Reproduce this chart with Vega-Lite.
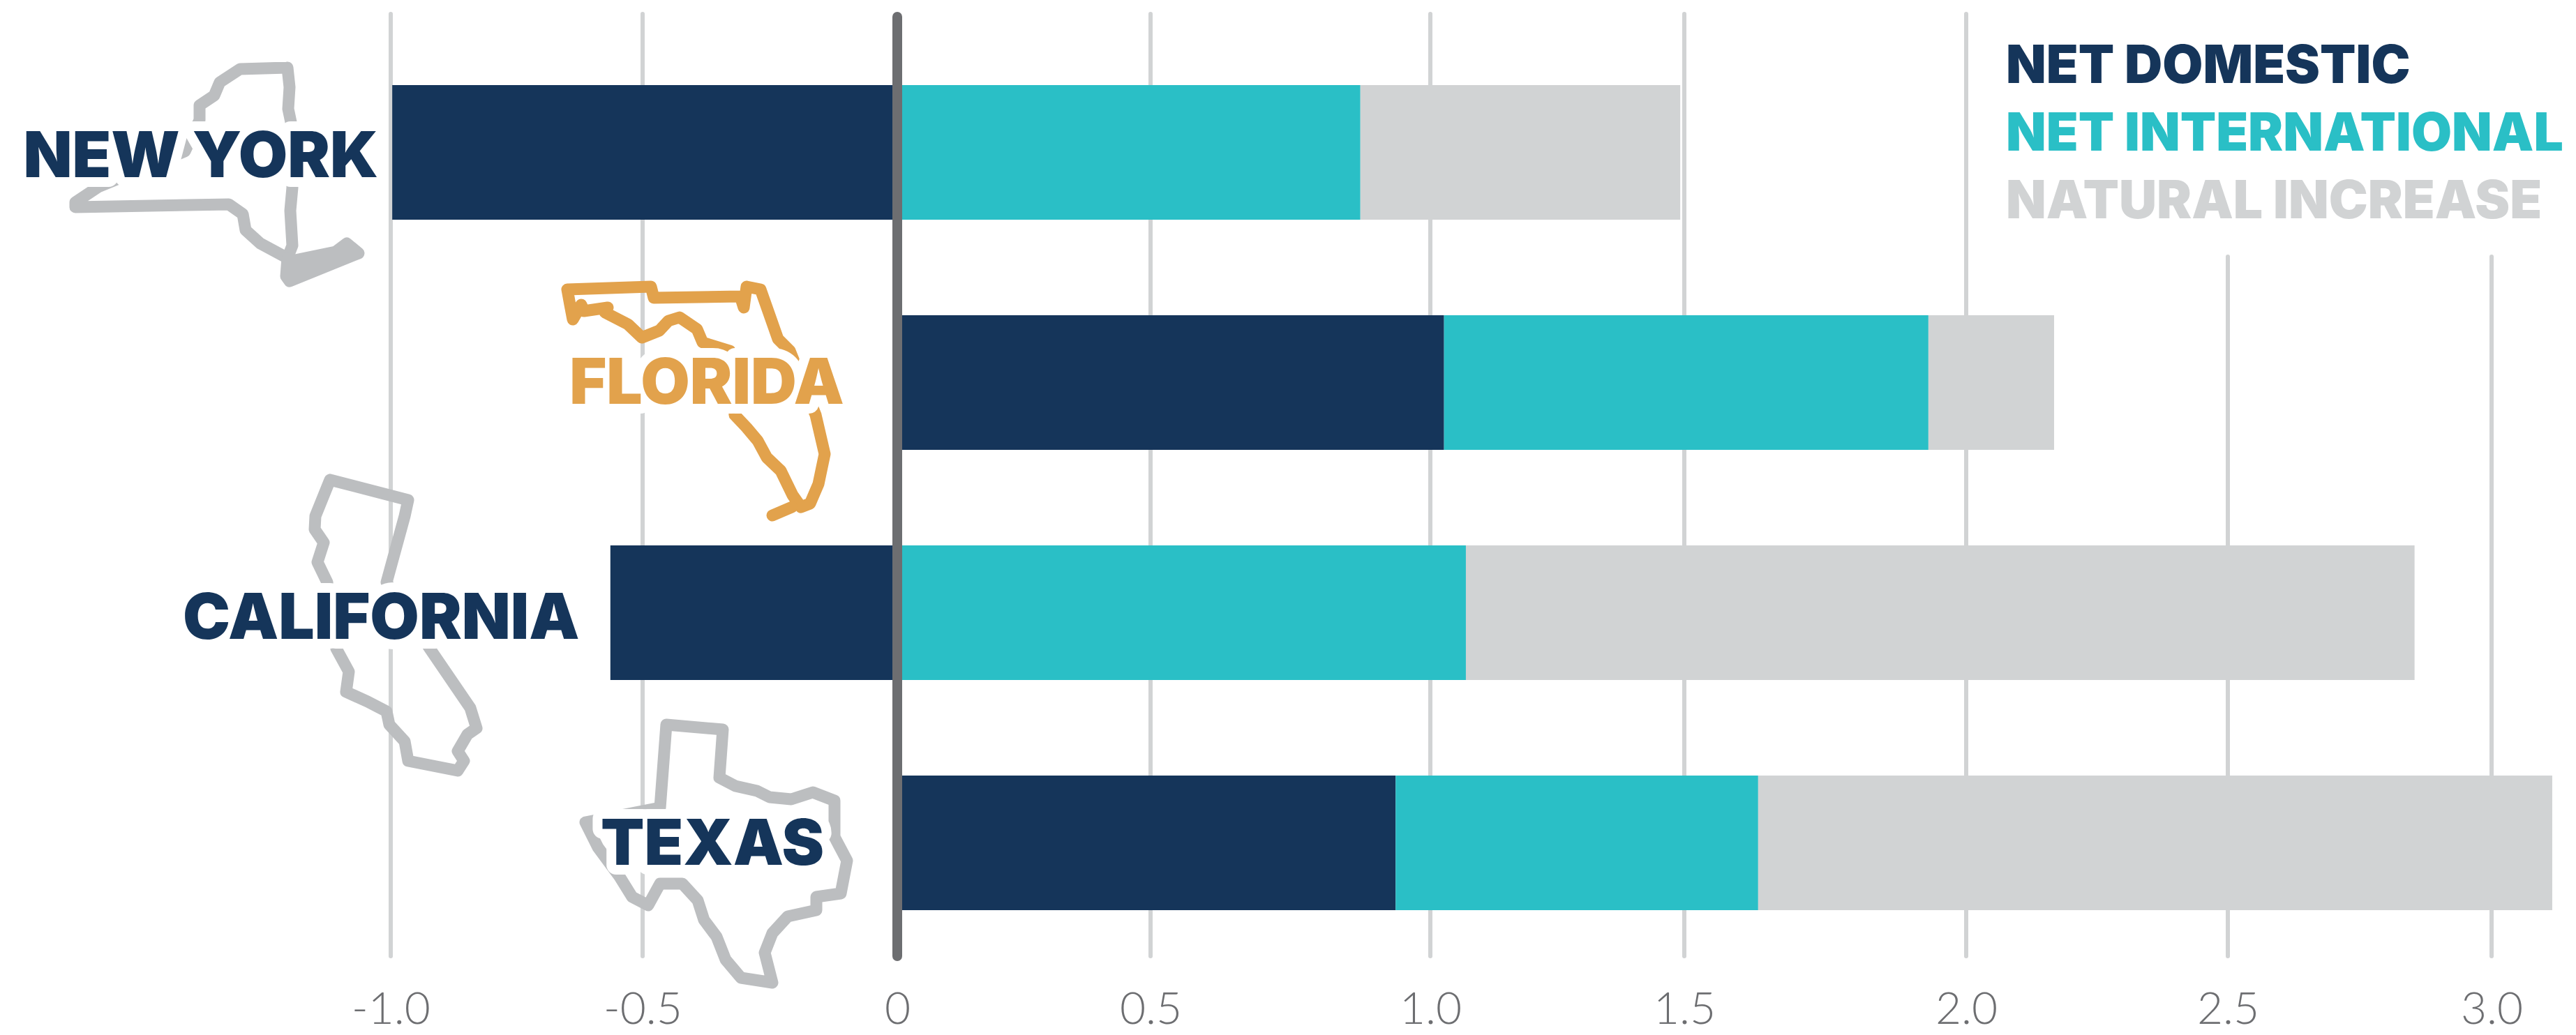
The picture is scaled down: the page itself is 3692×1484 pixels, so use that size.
{
"$schema":"https://vega.github.io/schema/vega-lite/v6.json",
"width":3692,"height":1400,
"autosize":{"type":"none"},
"padding":{"left":0,"right":0,"top":0,"bottom":84},
"background":"white",
"view":{"stroke":null},
"datasets":{
"bars":[
{"state":"NEW YORK","component":"NET DOMESTIC","rank":1,"value":-0.997},
{"state":"NEW YORK","component":"NET INTERNATIONAL","rank":2,"value":0.875},
{"state":"NEW YORK","component":"NATURAL INCREASE","rank":3,"value":0.617},
{"state":"FLORIDA","component":"NET DOMESTIC","rank":1,"value":1.027},
{"state":"FLORIDA","component":"NET INTERNATIONAL","rank":2,"value":0.906},
{"state":"FLORIDA","component":"NATURAL INCREASE","rank":3,"value":0.235},
{"state":"CALIFORNIA","component":"NET DOMESTIC","rank":1,"value":-0.564},
{"state":"CALIFORNIA","component":"NET INTERNATIONAL","rank":2,"value":1.07},
{"state":"CALIFORNIA","component":"NATURAL INCREASE","rank":3,"value":1.784},
{"state":"TEXAS","component":"NET DOMESTIC","rank":1,"value":0.938},
{"state":"TEXAS","component":"NET INTERNATIONAL","rank":2,"value":0.693},
{"state":"TEXAS","component":"NATURAL INCREASE","rank":3,"value":1.484}
],
"grid":[
{"tick":-1,"from":20,"to":1371},{"tick":-0.5,"from":20,"to":1371},
{"tick":0.5,"from":20,"to":1371},{"tick":1,"from":20,"to":1371},
{"tick":1.5,"from":20,"to":1371},{"tick":2,"from":20,"to":1371},
{"tick":2.5,"from":368,"to":1371},{"tick":3,"from":368,"to":1371}
],
"labels":[
{"state":"NEW YORK","at":-1.377,"center":220.5},{"state":"FLORIDA","at":-0.374,"center":546},
{"state":"CALIFORNIA","at":-1.019,"center":883},{"state":"TEXAS","at":-0.363,"center":1207}
],
"legend":[{"component":"NET DOMESTIC","at":2.076},{"component":"NET INTERNATIONAL","at":2.076},{"component":"NATURAL INCREASE","at":2.076}],
"outlines":[
{"state":"NEW YORK","part":"ny","seq":1,"map_x":412,"map_y":97},{"state":"NEW YORK","part":"ny","seq":2,"map_x":415,"map_y":125},{"state":"NEW YORK","part":"ny","seq":3,"map_x":413,"map_y":156},{"state":"NEW YORK","part":"ny","seq":4,"map_x":417,"map_y":175},{"state":"NEW YORK","part":"ny","seq":5,"map_x":419,"map_y":269},{"state":"NEW YORK","part":"ny","seq":6,"map_x":416,"map_y":302},{"state":"NEW YORK","part":"ny","seq":7,"map_x":419,"map_y":352},{"state":"NEW YORK","part":"ny","seq":8,"map_x":412,"map_y":370},{"state":"NEW YORK","part":"ny","seq":9,"map_x":373,"map_y":349},{"state":"NEW YORK","part":"ny","seq":10,"map_x":352,"map_y":330},{"state":"NEW YORK","part":"ny","seq":11,"map_x":348,"map_y":307},{"state":"NEW YORK","part":"ny","seq":12,"map_x":328,"map_y":293},{"state":"NEW YORK","part":"ny","seq":13,"map_x":108,"map_y":297},{"state":"NEW YORK","part":"ny","seq":14,"map_x":108,"map_y":290},{"state":"NEW YORK","part":"ny","seq":15,"map_x":141,"map_y":268},{"state":"NEW YORK","part":"ny","seq":16,"map_x":265,"map_y":217},{"state":"NEW YORK","part":"ny","seq":17,"map_x":286,"map_y":172},{"state":"NEW YORK","part":"ny","seq":18,"map_x":286,"map_y":151},{"state":"NEW YORK","part":"ny","seq":19,"map_x":307,"map_y":137},{"state":"NEW YORK","part":"ny","seq":20,"map_x":315,"map_y":118},{"state":"NEW YORK","part":"ny","seq":21,"map_x":344,"map_y":99},{"state":"NEW YORK","part":"ny","seq":22,"map_x":412,"map_y":97},
{"state":"NEW YORK","part":"li","seq":1,"map_x":412,"map_y":370},{"state":"NEW YORK","part":"li","seq":2,"map_x":410,"map_y":396},{"state":"NEW YORK","part":"li","seq":3,"map_x":423,"map_y":373},{"state":"NEW YORK","part":"li","seq":4,"map_x":481,"map_y":361},{"state":"NEW YORK","part":"li","seq":5,"map_x":497,"map_y":349},{"state":"NEW YORK","part":"li","seq":6,"map_x":514,"map_y":363},{"state":"NEW YORK","part":"li","seq":7,"map_x":415,"map_y":403},{"state":"NEW YORK","part":"li","seq":8,"map_x":410,"map_y":396},{"state":"NEW YORK","part":"li","seq":9,"map_x":440,"map_y":380},{"state":"NEW YORK","part":"li","seq":10,"map_x":500,"map_y":358},
{"state":"FLORIDA","part":"fl","seq":1,"map_x":813,"map_y":415},{"state":"FLORIDA","part":"fl","seq":2,"map_x":933,"map_y":411},{"state":"FLORIDA","part":"fl","seq":3,"map_x":937,"map_y":427},{"state":"FLORIDA","part":"fl","seq":4,"map_x":1061,"map_y":425},{"state":"FLORIDA","part":"fl","seq":5,"map_x":1066,"map_y":441},{"state":"FLORIDA","part":"fl","seq":6,"map_x":1070,"map_y":411},{"state":"FLORIDA","part":"fl","seq":7,"map_x":1090,"map_y":415},{"state":"FLORIDA","part":"fl","seq":8,"map_x":1115,"map_y":486},{"state":"FLORIDA","part":"fl","seq":9,"map_x":1132,"map_y":503},{"state":"FLORIDA","part":"fl","seq":10,"map_x":1169,"map_y":595},{"state":"FLORIDA","part":"fl","seq":11,"map_x":1182,"map_y":651},{"state":"FLORIDA","part":"fl","seq":12,"map_x":1173,"map_y":694},{"state":"FLORIDA","part":"fl","seq":13,"map_x":1161,"map_y":722},{"state":"FLORIDA","part":"fl","seq":14,"map_x":1148,"map_y":727},{"state":"FLORIDA","part":"fl","seq":15,"map_x":1136,"map_y":710},{"state":"FLORIDA","part":"fl","seq":16,"map_x":1119,"map_y":675},{"state":"FLORIDA","part":"fl","seq":17,"map_x":1099,"map_y":656},{"state":"FLORIDA","part":"fl","seq":18,"map_x":1086,"map_y":632},{"state":"FLORIDA","part":"fl","seq":19,"map_x":1070,"map_y":613},{"state":"FLORIDA","part":"fl","seq":20,"map_x":1053,"map_y":595},{"state":"FLORIDA","part":"fl","seq":21,"map_x":1046,"map_y":503},{"state":"FLORIDA","part":"fl","seq":22,"map_x":1007,"map_y":491},{"state":"FLORIDA","part":"fl","seq":23,"map_x":999,"map_y":472},{"state":"FLORIDA","part":"fl","seq":24,"map_x":974,"map_y":455},{"state":"FLORIDA","part":"fl","seq":25,"map_x":958,"map_y":460},{"state":"FLORIDA","part":"fl","seq":26,"map_x":945,"map_y":474},{"state":"FLORIDA","part":"fl","seq":27,"map_x":920,"map_y":484},{"state":"FLORIDA","part":"fl","seq":28,"map_x":900,"map_y":465},{"state":"FLORIDA","part":"fl","seq":29,"map_x":867,"map_y":448},{"state":"FLORIDA","part":"fl","seq":30,"map_x":871,"map_y":441},{"state":"FLORIDA","part":"fl","seq":31,"map_x":837,"map_y":446},{"state":"FLORIDA","part":"fl","seq":32,"map_x":833,"map_y":437},{"state":"FLORIDA","part":"fl","seq":33,"map_x":821,"map_y":458},{"state":"FLORIDA","part":"fl","seq":34,"map_x":817,"map_y":437},{"state":"FLORIDA","part":"fl","seq":35,"map_x":813,"map_y":415},
{"state":"FLORIDA","part":"keys","seq":1,"map_x":1107,"map_y":739},{"state":"FLORIDA","part":"keys","seq":2,"map_x":1135,"map_y":727},
{"state":"CALIFORNIA","part":"ca","seq":1,"map_x":473,"map_y":688},{"state":"CALIFORNIA","part":"ca","seq":2,"map_x":452,"map_y":740},{"state":"CALIFORNIA","part":"ca","seq":3,"map_x":451,"map_y":759},{"state":"CALIFORNIA","part":"ca","seq":4,"map_x":464,"map_y":778},{"state":"CALIFORNIA","part":"ca","seq":5,"map_x":455,"map_y":806},{"state":"CALIFORNIA","part":"ca","seq":6,"map_x":469,"map_y":835},{"state":"CALIFORNIA","part":"ca","seq":7,"map_x":482,"map_y":930},{"state":"CALIFORNIA","part":"ca","seq":8,"map_x":500,"map_y":963},{"state":"CALIFORNIA","part":"ca","seq":9,"map_x":496,"map_y":992},{"state":"CALIFORNIA","part":"ca","seq":10,"map_x":527,"map_y":1006},{"state":"CALIFORNIA","part":"ca","seq":11,"map_x":554,"map_y":1020},{"state":"CALIFORNIA","part":"ca","seq":12,"map_x":558,"map_y":1039},{"state":"CALIFORNIA","part":"ca","seq":13,"map_x":580,"map_y":1063},{"state":"CALIFORNIA","part":"ca","seq":14,"map_x":585,"map_y":1091},{"state":"CALIFORNIA","part":"ca","seq":15,"map_x":656,"map_y":1105},{"state":"CALIFORNIA","part":"ca","seq":16,"map_x":665,"map_y":1091},{"state":"CALIFORNIA","part":"ca","seq":17,"map_x":656,"map_y":1077},{"state":"CALIFORNIA","part":"ca","seq":18,"map_x":670,"map_y":1053},{"state":"CALIFORNIA","part":"ca","seq":19,"map_x":683,"map_y":1044},{"state":"CALIFORNIA","part":"ca","seq":20,"map_x":674,"map_y":1015},{"state":"CALIFORNIA","part":"ca","seq":21,"map_x":616,"map_y":930},{"state":"CALIFORNIA","part":"ca","seq":22,"map_x":554,"map_y":835},{"state":"CALIFORNIA","part":"ca","seq":23,"map_x":580,"map_y":740},{"state":"CALIFORNIA","part":"ca","seq":24,"map_x":585,"map_y":717},{"state":"CALIFORNIA","part":"ca","seq":25,"map_x":473,"map_y":688},
{"state":"TEXAS","part":"tx","seq":1,"map_x":955,"map_y":1039},{"state":"TEXAS","part":"tx","seq":2,"map_x":1036,"map_y":1046},{"state":"TEXAS","part":"tx","seq":3,"map_x":1031,"map_y":1115},{"state":"TEXAS","part":"tx","seq":4,"map_x":1054,"map_y":1127},{"state":"TEXAS","part":"tx","seq":5,"map_x":1085,"map_y":1134},{"state":"TEXAS","part":"tx","seq":6,"map_x":1103,"map_y":1143},{"state":"TEXAS","part":"tx","seq":7,"map_x":1134,"map_y":1146},{"state":"TEXAS","part":"tx","seq":8,"map_x":1165,"map_y":1136},{"state":"TEXAS","part":"tx","seq":9,"map_x":1196,"map_y":1148},{"state":"TEXAS","part":"tx","seq":10,"map_x":1196,"map_y":1200},{"state":"TEXAS","part":"tx","seq":11,"map_x":1214,"map_y":1234},{"state":"TEXAS","part":"tx","seq":12,"map_x":1205,"map_y":1281},{"state":"TEXAS","part":"tx","seq":13,"map_x":1170,"map_y":1286},{"state":"TEXAS","part":"tx","seq":14,"map_x":1170,"map_y":1305},{"state":"TEXAS","part":"tx","seq":15,"map_x":1129,"map_y":1314},{"state":"TEXAS","part":"tx","seq":16,"map_x":1107,"map_y":1338},{"state":"TEXAS","part":"tx","seq":17,"map_x":1096,"map_y":1366},{"state":"TEXAS","part":"tx","seq":18,"map_x":1107,"map_y":1409},{"state":"TEXAS","part":"tx","seq":19,"map_x":1062,"map_y":1402},{"state":"TEXAS","part":"tx","seq":20,"map_x":1040,"map_y":1376},{"state":"TEXAS","part":"tx","seq":21,"map_x":1027,"map_y":1343},{"state":"TEXAS","part":"tx","seq":22,"map_x":1009,"map_y":1319},{"state":"TEXAS","part":"tx","seq":23,"map_x":1000,"map_y":1291},{"state":"TEXAS","part":"tx","seq":24,"map_x":978,"map_y":1267},{"state":"TEXAS","part":"tx","seq":25,"map_x":946,"map_y":1267},{"state":"TEXAS","part":"tx","seq":26,"map_x":929,"map_y":1298},{"state":"TEXAS","part":"tx","seq":27,"map_x":906,"map_y":1286},{"state":"TEXAS","part":"tx","seq":28,"map_x":888,"map_y":1257},{"state":"TEXAS","part":"tx","seq":29,"map_x":857,"map_y":1215},{"state":"TEXAS","part":"tx","seq":30,"map_x":839,"map_y":1179},{"state":"TEXAS","part":"tx","seq":31,"map_x":946,"map_y":1158},{"state":"TEXAS","part":"tx","seq":32,"map_x":955,"map_y":1039}
]
},
"layer":[
{"data":{"name":"grid"},"mark":{"type":"rule","stroke":"#d1d3d4","strokeWidth":6,"strokeCap":"round"},
 "encoding":{
  "x":{"field":"tick","type":"quantitative","scale":{"domain":[-1,-0.5,0,0.5,1,1.5,2,2.5,3],"range":[560,921,1286,1649,2050,2414,2818,3193,3571],"nice":false,"zero":false},
   "axis":{"values":[-1,-0.5,0,0.5,1,1.5,2,2.5,3],"title":null,"domain":false,"ticks":false,"grid":false,"labelFont":"Lato","labelFontWeight":300,"labelFontSize":64,"labelColor":"#6d6e71","labelPadding":16,"labelBaseline":"top","labelFlush":false,"labelOverlap":false,"labelExpr":"datum.value==0?'0':(datum.value<0?'-':'')+format(abs(datum.value),'.1f')"}},
  "y":{"field":"from","type":"quantitative","scale":{"domain":[0,1484],"range":[0,1484],"nice":false,"zero":false},"axis":null},
  "y2":{"field":"to"}}},
{"data":{"name":"bars"},"mark":{"type":"bar"},
 "encoding":{
  "x":{"field":"value","type":"quantitative","stack":"zero","scale":{"domain":[-1,-0.5,0,0.5,1,1.5,2,2.5,3],"range":[560,921,1286,1649,2050,2414,2818,3193,3571],"nice":false,"zero":false},"axis":null},
  "y":{"field":"state","type":"nominal","scale":{"type":"band","domain":["NEW YORK","FLORIDA","CALIFORNIA","TEXAS"],"range":[122,1305],"paddingInner":0.415,"paddingOuter":0},"axis":null},
  "color":{"field":"component","type":"nominal","scale":{"domain":["NET DOMESTIC","NET INTERNATIONAL","NATURAL INCREASE"],"range":["#15355a","#2abfc6","#d1d3d4"]},"legend":null},
  "order":{"field":"rank","type":"quantitative"}}},
{"data":{"values":[{"zero":0,"from":24,"to":1371}]},"mark":{"type":"rule","stroke":"#6d6e71","strokeWidth":14,"strokeCap":"round"},
 "encoding":{
  "x":{"field":"zero","type":"quantitative","scale":{"domain":[-1,-0.5,0,0.5,1,1.5,2,2.5,3],"range":[560,921,1286,1649,2050,2414,2818,3193,3571],"nice":false,"zero":false},"axis":null},
  "y":{"field":"from","type":"quantitative","scale":{"domain":[0,1484],"range":[0,1484],"nice":false,"zero":false},"axis":null},
  "y2":{"field":"to"}}},
{"data":{"name":"outlines"},"mark":{"type":"line","strokeWidth":17,"strokeJoin":"round","strokeCap":"round"},
 "encoding":{
  "x":{"field":"map_x","type":"quantitative","scale":{"domain":[0,3692],"range":[0,3692],"nice":false,"zero":false},"axis":null},
  "y":{"field":"map_y","type":"quantitative","scale":{"domain":[0,1484],"range":[0,1484],"nice":false,"zero":false},"axis":null},
  "detail":{"field":"part"},
  "order":{"field":"seq","type":"quantitative"},
  "color":{"field":"state","type":"nominal","scale":{"domain":["NEW YORK","FLORIDA","CALIFORNIA","TEXAS"],"range":["#bcbec0","#e2a24c","#bcbec0","#bcbec0"]},"legend":null}}},
{"data":{"name":"labels"},"mark":{"type":"text","font":"Inter","fontWeight":900,"fontSize":91,"dy":6,"stroke":"white","strokeWidth":28,"strokeJoin":"round","fill":"white"},
 "encoding":{
  "x":{"field":"at","type":"quantitative","scale":{"domain":[-1,-0.5,0,0.5,1,1.5,2,2.5,3],"range":[560,921,1286,1649,2050,2414,2818,3193,3571],"nice":false,"zero":false},"axis":null},
  "y":{"field":"center","type":"quantitative","scale":{"domain":[0,1484],"range":[0,1484],"nice":false,"zero":false},"axis":null},
  "text":{"field":"state"}}},
{"data":{"name":"labels"},"mark":{"type":"text","font":"Inter","fontWeight":900,"fontSize":91,"dy":6},
 "encoding":{
  "x":{"field":"at","type":"quantitative","scale":{"domain":[-1,-0.5,0,0.5,1,1.5,2,2.5,3],"range":[560,921,1286,1649,2050,2414,2818,3193,3571],"nice":false,"zero":false},"axis":null},
  "y":{"field":"center","type":"quantitative","scale":{"domain":[0,1484],"range":[0,1484],"nice":false,"zero":false},"axis":null},
  "text":{"field":"state"},
  "color":{"field":"state","type":"nominal","scale":{"domain":["NEW YORK","FLORIDA","CALIFORNIA","TEXAS"],"range":["#15355a","#e2a24c","#15355a","#15355a"]},"legend":null}}},
{"data":{"name":"legend"},"mark":{"type":"text","font":"Inter","fontWeight":900,"fontSize":75,"align":"left","baseline":"alphabetic"},
 "encoding":{
  "x":{"field":"at","type":"quantitative","scale":{"domain":[-1,-0.5,0,0.5,1,1.5,2,2.5,3],"range":[560,921,1286,1649,2050,2414,2818,3193,3571],"nice":false,"zero":false},"axis":null},
  "y":{"field":"component","type":"nominal","scale":{"type":"point","domain":["NET DOMESTIC","NET INTERNATIONAL","NATURAL INCREASE"],"range":[119,313],"padding":0},"axis":null},
  "text":{"field":"component"},
  "color":{"field":"component","type":"nominal","scale":{"domain":["NET DOMESTIC","NET INTERNATIONAL","NATURAL INCREASE"],"range":["#15355a","#2abfc6","#d1d3d4"]},"legend":null}}}
],
"resolve":{"scale":{"x":"independent","y":"independent","color":"independent"},"axis":{"x":"independent","y":"independent"}}
}
